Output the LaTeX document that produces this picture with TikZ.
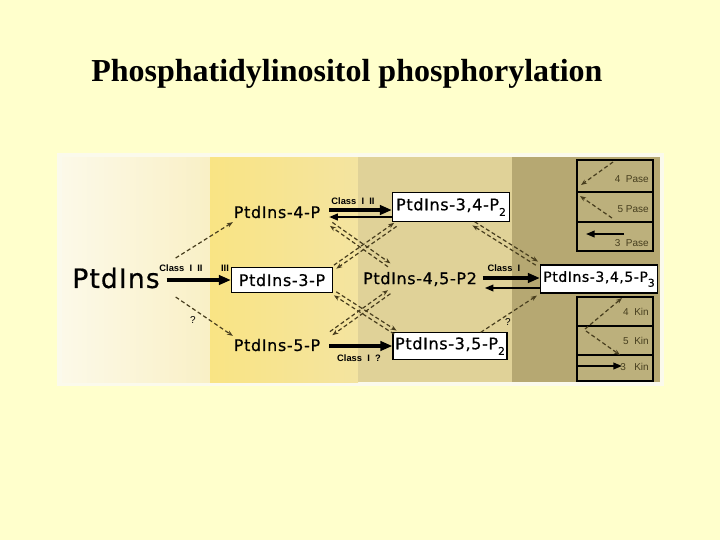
\documentclass[tikz,border=0pt]{standalone}
\usepackage{fontspec}
\setmainfont{Liberation Serif}
\newfontfamily\molfont[LetterSpace=4,FakeBold=0.6]{DejaVu Sans}
\newfontfamily\tagfont{Liberation Sans}
\usetikzlibrary{calc,arrows.meta}
\definecolor{slide}{RGB}{255,255,204}
\definecolor{frame}{RGB}{251,250,236}
\definecolor{bandA}{RGB}{252,249,232}
\definecolor{bandAr}{RGB}{249,240,198}
\definecolor{bandB}{RGB}{249,228,132}
\definecolor{bandBr}{RGB}{244,228,160}
\definecolor{bandC}{RGB}{224,210,152}
\definecolor{bandD}{RGB}{182,168,114}
\definecolor{legfill}{RGB}{188,176,124}
\definecolor{dashcol}{RGB}{72,62,30}
\definecolor{legink}{RGB}{70,62,30}
\tikzset{
  molbox/.style={draw=black, line width=0.9pt, fill=white, inner sep=0pt, font=\molfont\fontsize{12}{12}\selectfont},
  moltext/.style={inner sep=2pt, font=\molfont\fontsize{12}{12}\selectfont},
  tag/.style={inner sep=0pt, font=\tagfont\bfseries\fontsize{7}{8}\selectfont},
  legtext/.style={inner sep=0pt, anchor=east, text=legink, font=\tagfont\fontsize{7.5}{8}\selectfont},
  main/.style={line width=2.4pt, -{Triangle[length=9pt,width=7pt]}},
  back/.style={line width=1.3pt, -{Triangle[length=6.5pt,width=5pt]}},
  enz/.style={dashcol, line width=0.9pt, dash pattern=on 3pt off 2pt, -{Stealth[length=4.5pt,width=3.4pt]}},
}
\newcommand\sub[1]{\raisebox{-0.35em}{\fontsize{8}{8}\selectfont #1}}
\def\dashpair(#1)(#2){%
  \draw[enz] ($(#1)!1.6pt!90:(#2)$) -- ($(#2)!1.6pt!-90:(#1)$);
  \draw[enz] ($(#2)!1.6pt!90:(#1)$) -- ($(#1)!1.6pt!-90:(#2)$);}
\begin{document}
\begin{tikzpicture}[x=0.75pt,y=-0.75pt]
			%%%%% START %%%%%
			\fill[slide] (0,0) rectangle (720,540);
			\useasboundingbox (0,0) rectangle (720,540);
			\node[anchor=base west, inner sep=0pt, font=\bfseries\fontsize{24}{28}\selectfont] (title) at (91,81) {Phosphatidylinositol phosphorylation};
			
			% panel and bands
			\fill[frame] (57,153) rectangle (664,386);
			\shade[left color=bandA, right color=bandAr] (62,157) rectangle (210,382);
			\shade[left color=bandB, right color=bandBr] (210,157) rectangle (358,382);
			\fill[bandC] (358,157) rectangle (512,382);
			\fill[bandD] (512,157) rectangle (660,382);
			
			% molecules
			\node[moltext, font=\molfont\fontsize{20}{20}\selectfont] (pi) at (116,278) {PtdIns};
			\node[moltext] (p4) at (277,212) {PtdIns-4-P};
			\node[moltext] (p5) at (277,345) {PtdIns-5-P};
			\node[moltext] (p45) at (420,279) {PtdIns-4,5-P2};
			\node[molbox, minimum width=75.75pt, minimum height=18.75pt] (b3) at (282,280) {PtdIns-3-P};
			\node[molbox, minimum width=87.75pt, minimum height=21.75pt] (b34) at (451,207) {PtdIns-3,4-P\sub{2}};
			\node[molbox, minimum width=85.5pt, minimum height=20.25pt] (b35) at (450,346) {PtdIns-3,5-P\sub{2}};
			\node[molbox, minimum width=87.75pt, minimum height=21pt, font=\molfont\fontsize{10.5}{11}\selectfont] (b345) at (599,279) {PtdIns-3,4,5-P\sub{3}};
			
			% kinase steps
			\draw[main] ([xshift=3pt]pi.east |- b3.west) -- (b3.west);
			\draw[main] ($(p4.east)+(6,-2)$) -- ($(b34.west)+(0,3)$);
			\draw[back] ($(b34.west)+(0,10)$) -- ($(p4.east)+(6,5)$);
			\draw[main] ($(p5.east)+(6,1)$) -- (b35.west);
			\draw[main] ($(p45.east)+(3,-1)$) -- ($(b345.west)+(0,-1)$);
			\draw[back] ($(b345.west)+(0,9)$) -- ($(p45.east)+(5,9)$);
			\node[tag] (cl1) at (181,268) {Class \ I \ II};
			\node[tag] (cl2) at (225,268) {III};
			\node[tag] (cl3) at (353,201) {Class \ I \ II};
			\node[tag] (cl4) at (359,358) {Class \ I \ ?};
			\node[tag] (cl5) at (504,268) {Class \ I};
			
			% dashed conversions
			\coordinate (e4a) at ($(p4.south east)+(8,3)$);
			\coordinate (e45a) at ($(p45.north west)+(29,-4)$);
			\coordinate (e3a) at ($(b3.north east)+(2,0)$);
			\coordinate (e34a) at ($(b34.south west)+(3.5,2.5)$);
			\coordinate (e3b) at ($(b3.south east)+(2,0.5)$);
			\coordinate (e35a) at ($(b35.north west)+(3,0.5)$);
			\coordinate (e5a) at ($(p5.north east)+(8,-2.5)$);
			\coordinate (e45b) at ($(p45.south west)+(29,3)$);
			\coordinate (e34b) at ($(b34.south east)+(-36.5,1.5)$);
			\coordinate (e345a) at ($(b345.north west)+(-3,-1)$);
			\draw[enz] ($(pi.east)+(13,-20)$) -- ($(p4.south west)+(2,1)$);
			\draw[enz] ($(pi.east)+(13,19)$) -- ($(p5.north west)+(2,0)$);
			\node[tag, font=\tagfont\fontsize{7.5}{8}\selectfont] (q1) at (193,320) {?};
			\dashpair(e4a)(e45a)
			\dashpair(e3a)(e34a)
			\dashpair(e3b)(e35a)
			\dashpair(e5a)(e45b)
			\dashpair(e34b)(e345a)
			\draw[enz] ($(b35.north east)+(-27,0.5)$) -- ($(b345.south west)+(-3,2)$);
			\node[tag, font=\tagfont\fontsize{7.5}{8}\selectfont] (q2) at (508,322) {?};
			
			% legend
			\draw[fill=legfill, line width=0.8pt] (577,160) rectangle (653,251);
			\draw[line width=0.8pt] (577,192) -- (653,192) (577,222) -- (653,222);
			\draw[fill=legfill, line width=0.8pt] (577,297) rectangle (653,381);
			\draw[line width=0.8pt] (577,326) -- (653,326) (577,355) -- (653,355);
			\node[legtext] (l4p) at (649,179) {4 \ Pase};
			\node[legtext] (l5p) at (649,209) {5 Pase};
			\node[legtext] (l3p) at (649,243) {3 \ Pase};
			\node[legtext] (l4k) at (649,312) {4 \ Kin};
			\node[legtext] (l5k) at (649,341) {5 \ Kin};
			\node[legtext] (l3k) at (649,367) {3 \ \ Kin};
			\draw[enz] (613,162) -- (581,185);
			\draw[enz] (612,218) -- (580,196);
			\draw[back] (624,234) -- (586,234);
			\draw[enz] (585,329) -- (622,298);
			\draw[enz] (586,331) -- (620,355);
			\draw[back] (578,366) -- (622,366);
			%%%%% END %%%%%
\end{tikzpicture}
\end{document}
